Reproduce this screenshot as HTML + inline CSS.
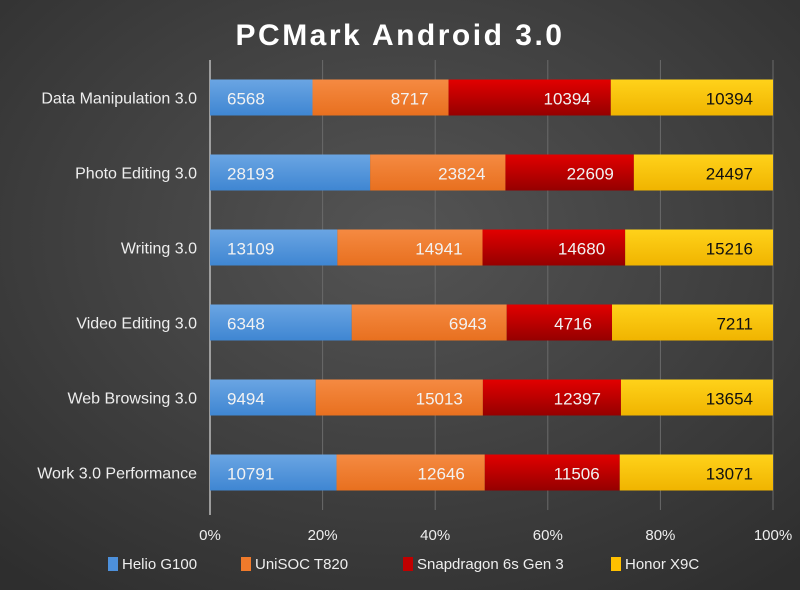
<!DOCTYPE html>
<html><head><meta charset="utf-8"><style>
body{margin:0;width:800px;height:590px;overflow:hidden}
svg{display:block;font-family:"Liberation Sans",sans-serif}
</style></head><body>
<svg width="800" height="590">
<defs>
<radialGradient id="bg" cx="50%" cy="40%" r="75%"><stop offset="0" stop-color="#545454"/><stop offset="1" stop-color="#2e2e2e"/></radialGradient>
<linearGradient id="g0" x1="0" y1="0" x2="0" y2="1"><stop offset="0" stop-color="#6aa5e3"/><stop offset="1" stop-color="#3f86d2"/></linearGradient>
<linearGradient id="g1" x1="0" y1="0" x2="0" y2="1"><stop offset="0" stop-color="#f58a42"/><stop offset="1" stop-color="#e8701f"/></linearGradient>
<linearGradient id="g2" x1="0" y1="0" x2="0" y2="1"><stop offset="0" stop-color="#e20000"/><stop offset="1" stop-color="#950000"/></linearGradient>
<linearGradient id="g3" x1="0" y1="0" x2="0" y2="1"><stop offset="0" stop-color="#ffd21a"/><stop offset="1" stop-color="#f0b400"/></linearGradient>
</defs>
<rect width="800" height="590" fill="url(#bg)"/>
<text x="400" y="45" text-anchor="middle" fill="#fff" font-size="30" font-weight="bold" letter-spacing="2.5">PCMark Android 3.0</text>
<g id="grid"></g><g id="bars"></g><g id="axis"></g><g id="legend"></g>
</svg>
<script>
const categories=["Data Manipulation 3.0","Photo Editing 3.0","Writing 3.0","Video Editing 3.0","Web Browsing 3.0","Work 3.0 Performance"];
const seriesNames=["Helio G100","UniSOC T820","Snapdragon 6s Gen 3","Honor X9C"];
const helio=[6568,28193,13109,6348,9494,10791];
const unisoc=[8717,23824,14941,6943,15013,12646];
const snap=[10394,22609,14680,4716,12397,11506];
const honor=[10394,24497,15216,7211,13654,13071];
const ticks=["0%","20%","40%","60%","80%","100%"];
const series=[helio,unisoc,snap,honor];
const NS="http://www.w3.org/2000/svg";
const x0=210,x1=773,yTop=60,rowH=75,barH=36;
const xs=f=>x0+f*(x1-x0);
const yc=i=>yTop+rowH*i+rowH/2;
function mk(t,a,p){const e=document.createElementNS(NS,t);for(const k in a)e.setAttribute(k,a[k]);p.appendChild(e);return e;}
const grid=document.getElementById('grid'),bars=document.getElementById('bars'),axis=document.getElementById('axis'),legend=document.getElementById('legend');
ticks.forEach((t,i)=>{const x=xs(i/(ticks.length-1));
 const l=mk('line',{x1:x,x2:x,y1:yTop,y2:i==0?515:510,stroke:i==0?'#bbb':'#6a6a6a','stroke-width':i==0?1.5:1},grid);
 
 
 const tx=mk('text',{x:x,y:540,'text-anchor':'middle',fill:'#eee','font-size':15},axis);tx.textContent=t;
 
 
});
categories.forEach((c,i)=>{
 const tot=series.reduce((s,a)=>s+a[i],0);let acc=0;const y=yc(i);
 const ct=mk('text',{x:197,y:y+6,'text-anchor':'end',fill:'#eee','font-size':16},axis);ct.textContent=c;
 
 
 series.forEach((s,j)=>{
  const a=xs(acc/tot),b=xs((acc+s[i])/tot);acc+=s[i];
  const r=mk('rect',{x:a,y:y-barH/2,width:b-a,height:barH,fill:'url(#g'+j+')'},bars);
  
  
  const lbl=mk('text',{x:j==0?a+17:b-20,y:y+7,'text-anchor':j==0?'start':'end',fill:j==3?'#111':'#f2f2f2','font-size':17},bars);
  lbl.textContent=s[i];
  
  
 });
});
const lx=[108,241,403,611],cols=['#4d90db','#ef7a2b','#c00000','#ffc000'];
seriesNames.forEach((n,j)=>{
 const g=mk('g',{},legend);
 
 
 mk('rect',{x:lx[j],y:557,width:10,height:14,fill:cols[j]},g);
 const t=mk('text',{x:lx[j]+14,y:569,fill:'#eee','font-size':15},g);t.textContent=n;
});
</script>
</body></html>
